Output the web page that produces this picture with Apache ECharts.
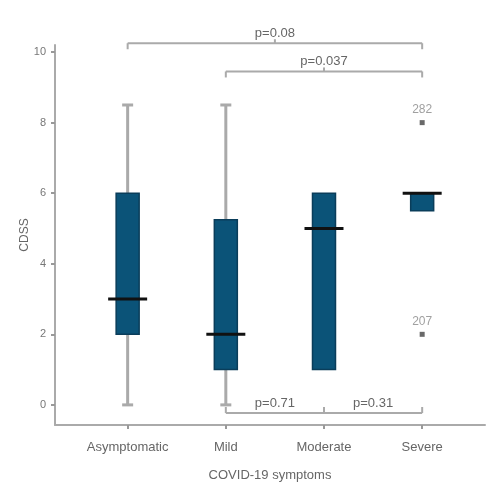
<!DOCTYPE html>
<html><head><meta charset="utf-8">
<script src="https://cdn.jsdelivr.net/npm/echarts@6/dist/echarts.min.js"></script>
<style>html,body{margin:0;padding:0;background:#fff}#c{width:500px;height:500px}</style>
</head><body><div id="c"></div>
<script>
var categories = ['Asymptomatic', 'Mild', 'Moderate', 'Severe'];
var whiskerLow  = [0, 0, 1, 5.5];
var q1          = [2, 1, 1, 5.5];
var medians     = [3, 2, 5, 6];
var q3          = [6, 5.25, 6, 6];
var whiskerHigh = [8.5, 8.5, 6, 6];
var outlierCat  = [3, 3];
var outlierVal  = [8, 2];
var outlierLab  = ['282', '207'];
// brackets: from category, to category, height (data units), label, direction (1 = ticks down, -1 = ticks up)
var bracketFrom = [0, 1, 1, 2];
var bracketTo   = [3, 3, 2, 3];
var bracketY    = [10.25, 9.45, -0.23, -0.23];
var bracketLab  = ['p=0.08', 'p=0.037', 'p=0.71', 'p=0.31'];
var bracketDir  = [1, 1, -1, -1];
var yTicks = [0, 2, 4, 6, 8, 10];

var FONT = '"Liberation Sans Narrow", "Liberation Sans", sans-serif';
var chart = echarts.init(document.getElementById('c'));

var boxData = categories.map(function (c, i) {
  return [i, whiskerLow[i], q1[i], medians[i], q3[i], whiskerHigh[i]];
});
var bracketData = bracketFrom.map(function (f, i) {
  return [f, bracketTo[i], bracketY[i], bracketDir[i], bracketLab[i]];
});
var outlierData = outlierCat.map(function (c, i) { return [c, outlierVal[i], outlierLab[i]]; });

chart.setOption({
  animation: false,
  grid: { left: 55, right: 15, top: 45, bottom: 75 },
  xAxis: {
    type: 'value', min: -0.74, max: 3.64,
    splitLine: { show: false },
    axisLine: { show: true, onZero: false, lineStyle: { color: '#aaa', width: 2 } },
    axisTick: { show: true, customValues: [0, 1, 2, 3], length: 4, lineStyle: { color: '#999', width: 2 } },
    axisLabel: { customValues: [0, 1, 2, 3], formatter: function (v) { return categories[Math.round(v)]; },
      color: '#666', fontFamily: FONT, fontSize: 13, margin: 16 },
    name: 'COVID-19 symptoms', nameLocation: 'middle', nameGap: 44,
    nameTextStyle: { color: '#666', fontFamily: FONT, fontSize: 13 }
  },
  yAxis: {
    type: 'value', min: -0.57, max: 10.2,
    splitLine: { show: false },
    axisLine: { show: true, onZero: false, lineStyle: { color: '#aaa', width: 2 } },
    axisTick: { show: true, customValues: yTicks, length: 4, lineStyle: { color: '#999', width: 2 } },
    axisLabel: { customValues: yTicks, color: '#777', fontFamily: FONT, fontSize: 11, margin: 9 },
    name: 'CDSS', nameLocation: 'middle', nameGap: 24, nameMoveOverlap: false,
    nameTextStyle: { color: '#666', fontFamily: FONT, fontSize: 12 }
  },
  series: [
    {
      type: 'custom', data: boxData, clip: false, z: 3,
      renderItem: function (params, api) {
        var x = api.value(0);
        var pLo = api.coord([x, api.value(1)]);
        var pQ1 = api.coord([x, api.value(2)]);
        var pMed = api.coord([x, api.value(3)]);
        var pQ3 = api.coord([x, api.value(4)]);
        var pHi = api.coord([x, api.value(5)]);
        var cx = pMed[0];
        var bw = 23, mw = 39, cw = 11;
        var wStyle = { stroke: '#aaa', lineWidth: 3 };
        var ch = [];
        if (api.value(1) < api.value(2)) {
          ch.push({ type: 'line', shape: { x1: cx, y1: pLo[1], x2: cx, y2: pQ1[1] }, style: wStyle });
          ch.push({ type: 'line', shape: { x1: cx - cw / 2, y1: pLo[1], x2: cx + cw / 2, y2: pLo[1] }, style: wStyle });
        }
        if (api.value(5) > api.value(4)) {
          ch.push({ type: 'line', shape: { x1: cx, y1: pHi[1], x2: cx, y2: pQ3[1] }, style: wStyle });
          ch.push({ type: 'line', shape: { x1: cx - cw / 2, y1: pHi[1], x2: cx + cw / 2, y2: pHi[1] }, style: wStyle });
        }
        ch.push({ type: 'rect', shape: { x: cx - bw / 2, y: pQ3[1], width: bw, height: pQ1[1] - pQ3[1] },
          style: { fill: '#0b5378', stroke: '#0a3d5a', lineWidth: 1.5 } });
        ch.push({ type: 'line', shape: { x1: cx - mw / 2, y1: pMed[1], x2: cx + mw / 2, y2: pMed[1] },
          style: { stroke: '#111', lineWidth: 3 } });
        return { type: 'group', children: ch };
      }
    },
    {
      type: 'scatter', data: outlierData, symbol: 'rect', symbolSize: 5, z: 4,
      itemStyle: { color: '#444' },
      label: { show: true, position: 'top', distance: 4, formatter: function (p) { return p.data[2]; },
        color: '#888', fontFamily: FONT, fontSize: 12 }
    },
    {
      type: 'custom', data: bracketData, clip: false, z: 2,
      renderItem: function (params, api) {
        var y = api.value(2), dir = api.value(3);
        var a = api.coord([api.value(0), y]);
        var b = api.coord([api.value(1), y]);
        var ly = a[1], t = 6 * dir;
        var st = { stroke: '#aaa', lineWidth: 2 };
        var mid = (a[0] + b[0]) / 2;
        var ch = [
          { type: 'line', shape: { x1: a[0], y1: ly, x2: b[0], y2: ly }, style: st },
          { type: 'line', shape: { x1: a[0], y1: ly, x2: a[0], y2: ly + t }, style: st },
          { type: 'line', shape: { x1: b[0], y1: ly, x2: b[0], y2: ly + t }, style: st },
          { type: 'text', style: { text: api.value(4), x: mid, y: ly - 10, align: 'center', verticalAlign: 'middle',
            fill: '#666', font: '13px ' + FONT } }
        ];
        if (dir > 0) {
          ch.push({ type: 'line', shape: { x1: mid, y1: ly, x2: mid, y2: ly - 4 }, style: st });
        }
        return { type: 'group', children: ch };
      }
    }
  ]
});
</script>
</body></html>
